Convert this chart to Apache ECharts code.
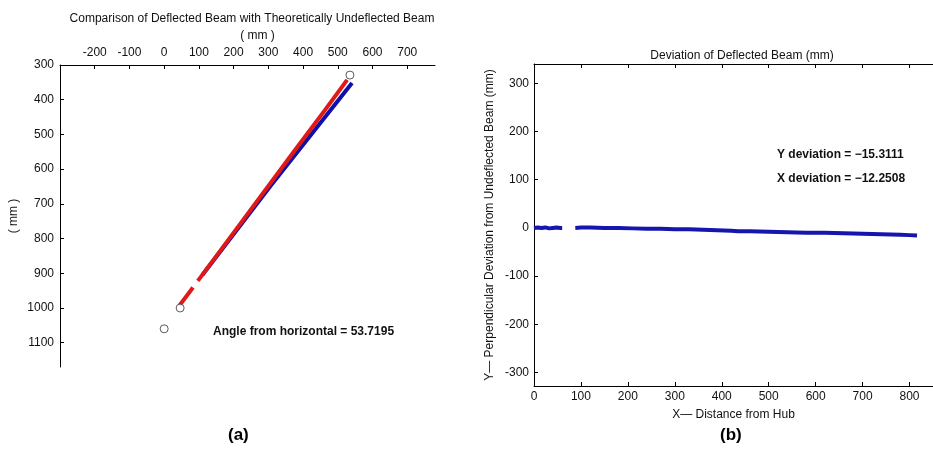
<!DOCTYPE html>
<html>
<head>
<meta charset="utf-8">
<script src="https://cdn.jsdelivr.net/npm/echarts@6/dist/echarts.min.js"></script>
<style>html,body{margin:0;padding:0;background:#fff}#c{width:933px;height:450px}</style>
</head>
<body>
<div id="c"></div>
<script>
// ---- Panel (a): beam positions (mm) ----
var redBeam = [[44, 993], [83, 941], null, [97, 922], [227, 747], [377, 545], [463, 430], [527, 343]];
var blueBeam = [[110, 905], [305, 650], [541, 352]];
var markerPoints = [[535, 329], [46, 1000], [0, 1060]];
var angleText = 'Angle from horizontal = 53.7195';

// ---- Panel (b): deviation (mm) ----
var deviation = [
  [0, 0], [8, 1], [16, 0], [24, 1], [32, -1], [40, 0], [48, 1], [56, 0], [60, 0], null,
  [88, 0], [100, 1], [120, 1], [150, 0], [180, 0], [210, -1], [240, -2], [270, -2], [300, -3],
  [330, -3], [360, -4], [390, -5], [420, -6], [435, -7], [460, -7], [500, -8], [540, -9],
  [580, -10], [620, -10], [660, -11], [700, -12], [740, -13], [780, -14], [800, -15], [816, -16]
];
var devTicks = [-300, -200, -100, 0, 100, 200, 300];
var yDevText = 'Y deviation = \u221215.3111';
var xDevText = 'X deviation = \u221212.2508';

var FONT = 'Liberation Sans, Arial, sans-serif';
function plain(v) { return String(v); }
function ax(o) {
  var base = {
    axisLine: {show: true, onZero: false, lineStyle: {color: '#000', width: 1}},
    axisTick: {show: true, inside: true, length: 4, lineStyle: {color: '#000'}},
    splitLine: {show: false}
  };
  return Object.assign(base, o);
}
function lbl(extra) {
  return Object.assign({color: '#111', fontFamily: FONT, fontSize: 12, formatter: plain}, extra);
}

var chart = echarts.init(document.getElementById('c'));
chart.setOption({
  backgroundColor: '#fff',
  animation: false,
  title: [
    {text: 'Comparison of Deflected Beam with Theoretically Undeflected Beam', left: 247, top: 8, textAlign: 'center',
     textStyle: {fontFamily: FONT, fontSize: 12, fontWeight: 'normal', color: '#111'}},
    {text: 'Deviation of Deflected Beam (mm)', left: 737, top: 45, textAlign: 'center',
     textStyle: {fontFamily: FONT, fontSize: 12, fontWeight: 'normal', color: '#111'}}
  ],
  grid: [
    {left: 60, top: 65, width: 375, height: 302},
    {left: 534, top: 64, width: 416, height: 322}
  ],
  xAxis: [
    ax({gridIndex: 0, type: 'value', position: 'top', min: -300, max: 780, interval: 100,
        name: '( mm )', nameLocation: 'middle', nameGap: 22,
        nameTextStyle: {fontFamily: FONT, fontSize: 12, color: '#111', padding: [0, 0, 0, 20]},
        axisLabel: lbl({margin: 6, showMinLabel: false, showMaxLabel: false})}),
    ax({gridIndex: 1, type: 'value', position: 'bottom', min: 0, max: 850, interval: 100,
        name: 'X\u2014 Distance from Hub', nameLocation: 'middle', nameGap: 23,
        nameTextStyle: {fontFamily: FONT, fontSize: 12, color: '#111'},
        axisLabel: lbl({margin: 5, showMaxLabel: false})}),
    ax({gridIndex: 1, type: 'value', position: 'top', min: 0, max: 850, interval: 100,
        axisLabel: {show: false}})
  ],
  yAxis: [
    ax({gridIndex: 0, type: 'value', inverse: true, min: 300, max: 1170, interval: 100,
        name: '( mm )', nameLocation: 'middle', nameGap: 40, nameRotate: 90,
        nameTextStyle: {fontFamily: FONT, fontSize: 12, color: '#111'},
        axisLabel: lbl({margin: 6, showMaxLabel: false})}),
    ax({gridIndex: 1, type: 'value', min: -328, max: 340,
        name: 'Y\u2014 Perpendicular Deviation from Undeflected Beam (mm)', nameLocation: 'middle', nameGap: 38,
        nameTextStyle: {fontFamily: FONT, fontSize: 12, color: '#111'},
        axisLabel: lbl({margin: 5, customValues: devTicks}),
        axisTick: {show: true, inside: true, length: 4, lineStyle: {color: '#000'}, customValues: devTicks}})
  ],
  series: [
    {type: 'line', xAxisIndex: 0, yAxisIndex: 0, data: blueBeam, showSymbol: false, connectNulls: false,
     lineStyle: {color: '#1010a8', width: 4}, z: 2},
    {type: 'line', xAxisIndex: 0, yAxisIndex: 0, data: redBeam, showSymbol: false, connectNulls: false,
     lineStyle: {color: '#e01818', width: 4}, z: 3},
    {type: 'scatter', xAxisIndex: 0, yAxisIndex: 0, data: markerPoints, symbol: 'circle', symbolSize: 8,
     itemStyle: {color: '#fff', borderColor: '#333', borderWidth: 1}, z: 4},
    {type: 'line', xAxisIndex: 1, yAxisIndex: 1, data: deviation, showSymbol: false, connectNulls: false,
     lineStyle: {color: '#1515b0', width: 4}, z: 3}
  ],
  graphic: [
    {type: 'text', left: 213, top: 326, style: {text: angleText, font: 'bold 12px ' + FONT, fill: '#111'}},
    {type: 'text', left: 777, top: 149, style: {text: yDevText, font: 'bold 12px ' + FONT, fill: '#111'}},
    {type: 'text', left: 777, top: 173, style: {text: xDevText, font: 'bold 12px ' + FONT, fill: '#111'}},
    {type: 'text', left: 228, top: 427, style: {text: '(a)', font: 'bold 17px ' + FONT, fill: '#000'}},
    {type: 'text', left: 720, top: 427, style: {text: '(b)', font: 'bold 17px ' + FONT, fill: '#000'}}
  ]
});
</script>
</body>
</html>
